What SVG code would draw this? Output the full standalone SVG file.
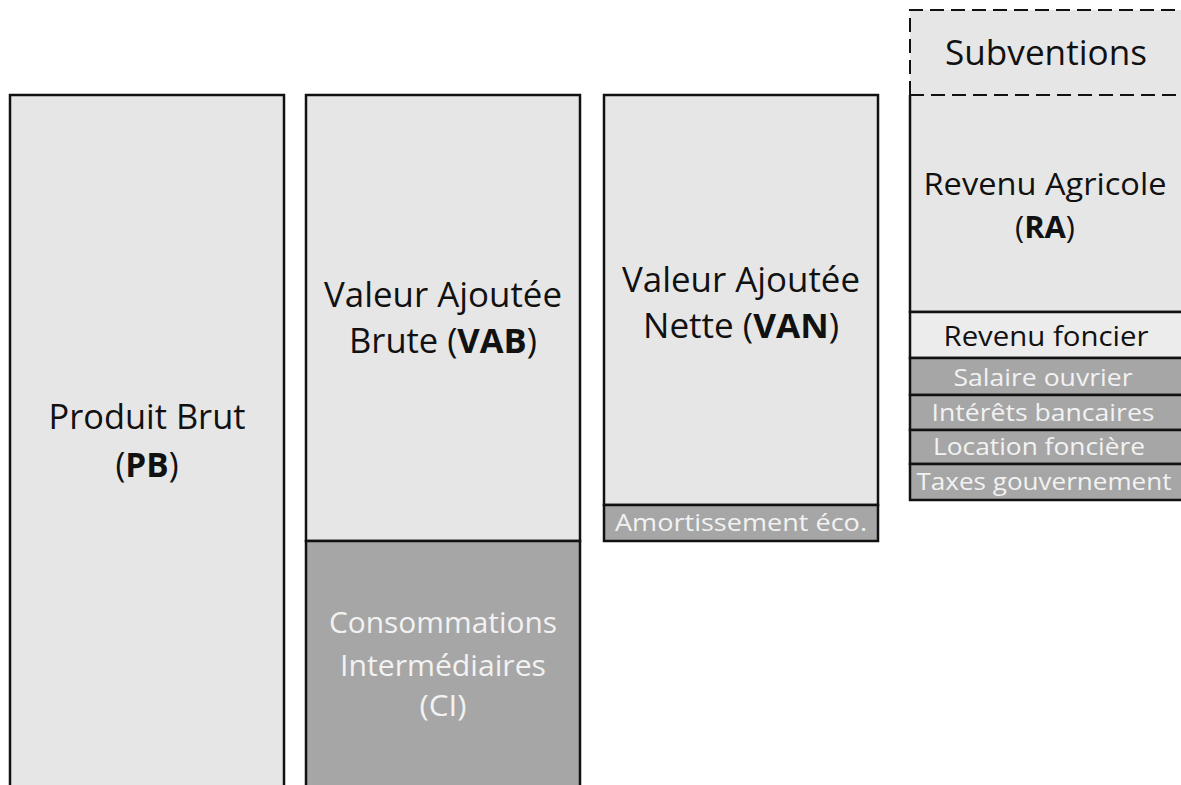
<svg xmlns="http://www.w3.org/2000/svg" width="1181" height="785" viewBox="0 0 1181 785">
<style>
.light{fill:#e6e6e6;stroke:#111;stroke-width:2.5}
.lighter{fill:#ececec;stroke:#111;stroke-width:2.5}
.dark{fill:#a6a6a6;stroke:#111;stroke-width:2.5}
.dashline{fill:none;stroke:#111;stroke-width:2;stroke-dasharray:14 7}
text{font-family:"Open Sans",Lato,"Liberation Sans",sans-serif;text-anchor:middle}
.big{font-size:34px;fill:#111}
.ra{font-size:31px;fill:#111}
.mid{font-size:28px;fill:#111}
.ci{font-size:29px;fill:#f2f2f2}
.sm{font-size:23px;fill:#f2f2f2}
.b{font-weight:bold}
</style>
<rect width="1181" height="785" fill="#fff"/>
<g id="pb">
<rect class="light" x="10" y="95" width="274" height="710"/>
<text class="big" x="147" y="429" textLength="197" lengthAdjust="spacingAndGlyphs">Produit Brut</text>
<text class="big" x="147" y="477" textLength="63" lengthAdjust="spacingAndGlyphs">(<tspan class="b">PB</tspan>)</text>
</g>
<g id="vab">
<rect class="light" x="306" y="95" width="274" height="446"/>
<text class="big" x="443" y="307" textLength="238" lengthAdjust="spacingAndGlyphs">Valeur Ajoutée</text>
<text class="big" x="443" y="353" textLength="188" lengthAdjust="spacingAndGlyphs">Brute (<tspan class="b">VAB</tspan>)</text>
</g>
<g id="ci">
<rect class="dark" x="306" y="541" width="274" height="264"/>
<text class="ci" x="443" y="633" textLength="228" lengthAdjust="spacingAndGlyphs">Consommations</text>
<text class="ci" x="443" y="676" textLength="206" lengthAdjust="spacingAndGlyphs">Intermédiaires</text>
<text class="ci" x="443" y="716" textLength="47" lengthAdjust="spacingAndGlyphs">(CI)</text>
</g>
<g id="van">
<rect class="light" x="604" y="95" width="274" height="410"/>
<text class="big" x="741" y="292" textLength="238" lengthAdjust="spacingAndGlyphs">Valeur Ajoutée</text>
<text class="big" x="741" y="338" textLength="196" lengthAdjust="spacingAndGlyphs">Nette (<tspan class="b">VAN</tspan>)</text>
</g>
<g id="amort">
<rect class="dark" x="604" y="505" width="274" height="36"/>
<text class="sm" x="741" y="531" textLength="252" lengthAdjust="spacingAndGlyphs">Amortissement éco.</text>
</g>
<g id="subv">
<rect x="910" y="10" width="274" height="85" fill="#e6e6e6"/>
<path class="dashline" d="M910 95 V10 H1184"/>
<text class="big" x="1046" y="65" textLength="202" lengthAdjust="spacingAndGlyphs">Subventions</text>
</g>
<g id="ra">
<rect x="910" y="95" width="274" height="217" fill="#e6e6e6"/>
<path d="M910 95 V312 H1184" fill="none" stroke="#111" stroke-width="2.5"/>
<line class="dashline" x1="910" y1="95" x2="1184" y2="95"/>
<text class="ra" x="1045" y="195" textLength="243" lengthAdjust="spacingAndGlyphs">Revenu Agricole</text>
<text class="ra" x="1045" y="238" textLength="60" lengthAdjust="spacingAndGlyphs">(<tspan class="b">RA</tspan>)</text>
</g>
<g id="foncier">
<rect class="lighter" x="910" y="312" width="274" height="46"/>
<text class="mid" x="1046" y="346" textLength="205" lengthAdjust="spacingAndGlyphs">Revenu foncier</text>
</g>
<g id="salaire">
<rect class="dark" x="910" y="358" width="274" height="37"/>
<text class="sm" x="1043" y="386" textLength="179" lengthAdjust="spacingAndGlyphs">Salaire ouvrier</text>
</g>
<g id="interets">
<rect class="dark" x="910" y="395" width="274" height="35"/>
<text class="sm" x="1043" y="421" textLength="223" lengthAdjust="spacingAndGlyphs">Intérêts bancaires</text>
</g>
<g id="location">
<rect class="dark" x="910" y="430" width="274" height="34"/>
<text class="sm" x="1039" y="455" textLength="212" lengthAdjust="spacingAndGlyphs">Location foncière</text>
</g>
<g id="taxes">
<rect class="dark" x="910" y="464" width="274" height="36"/>
<text class="sm" x="1044" y="490" textLength="255" lengthAdjust="spacingAndGlyphs">Taxes gouvernement</text>
</g>
<g id="connectors"/>
</svg>
